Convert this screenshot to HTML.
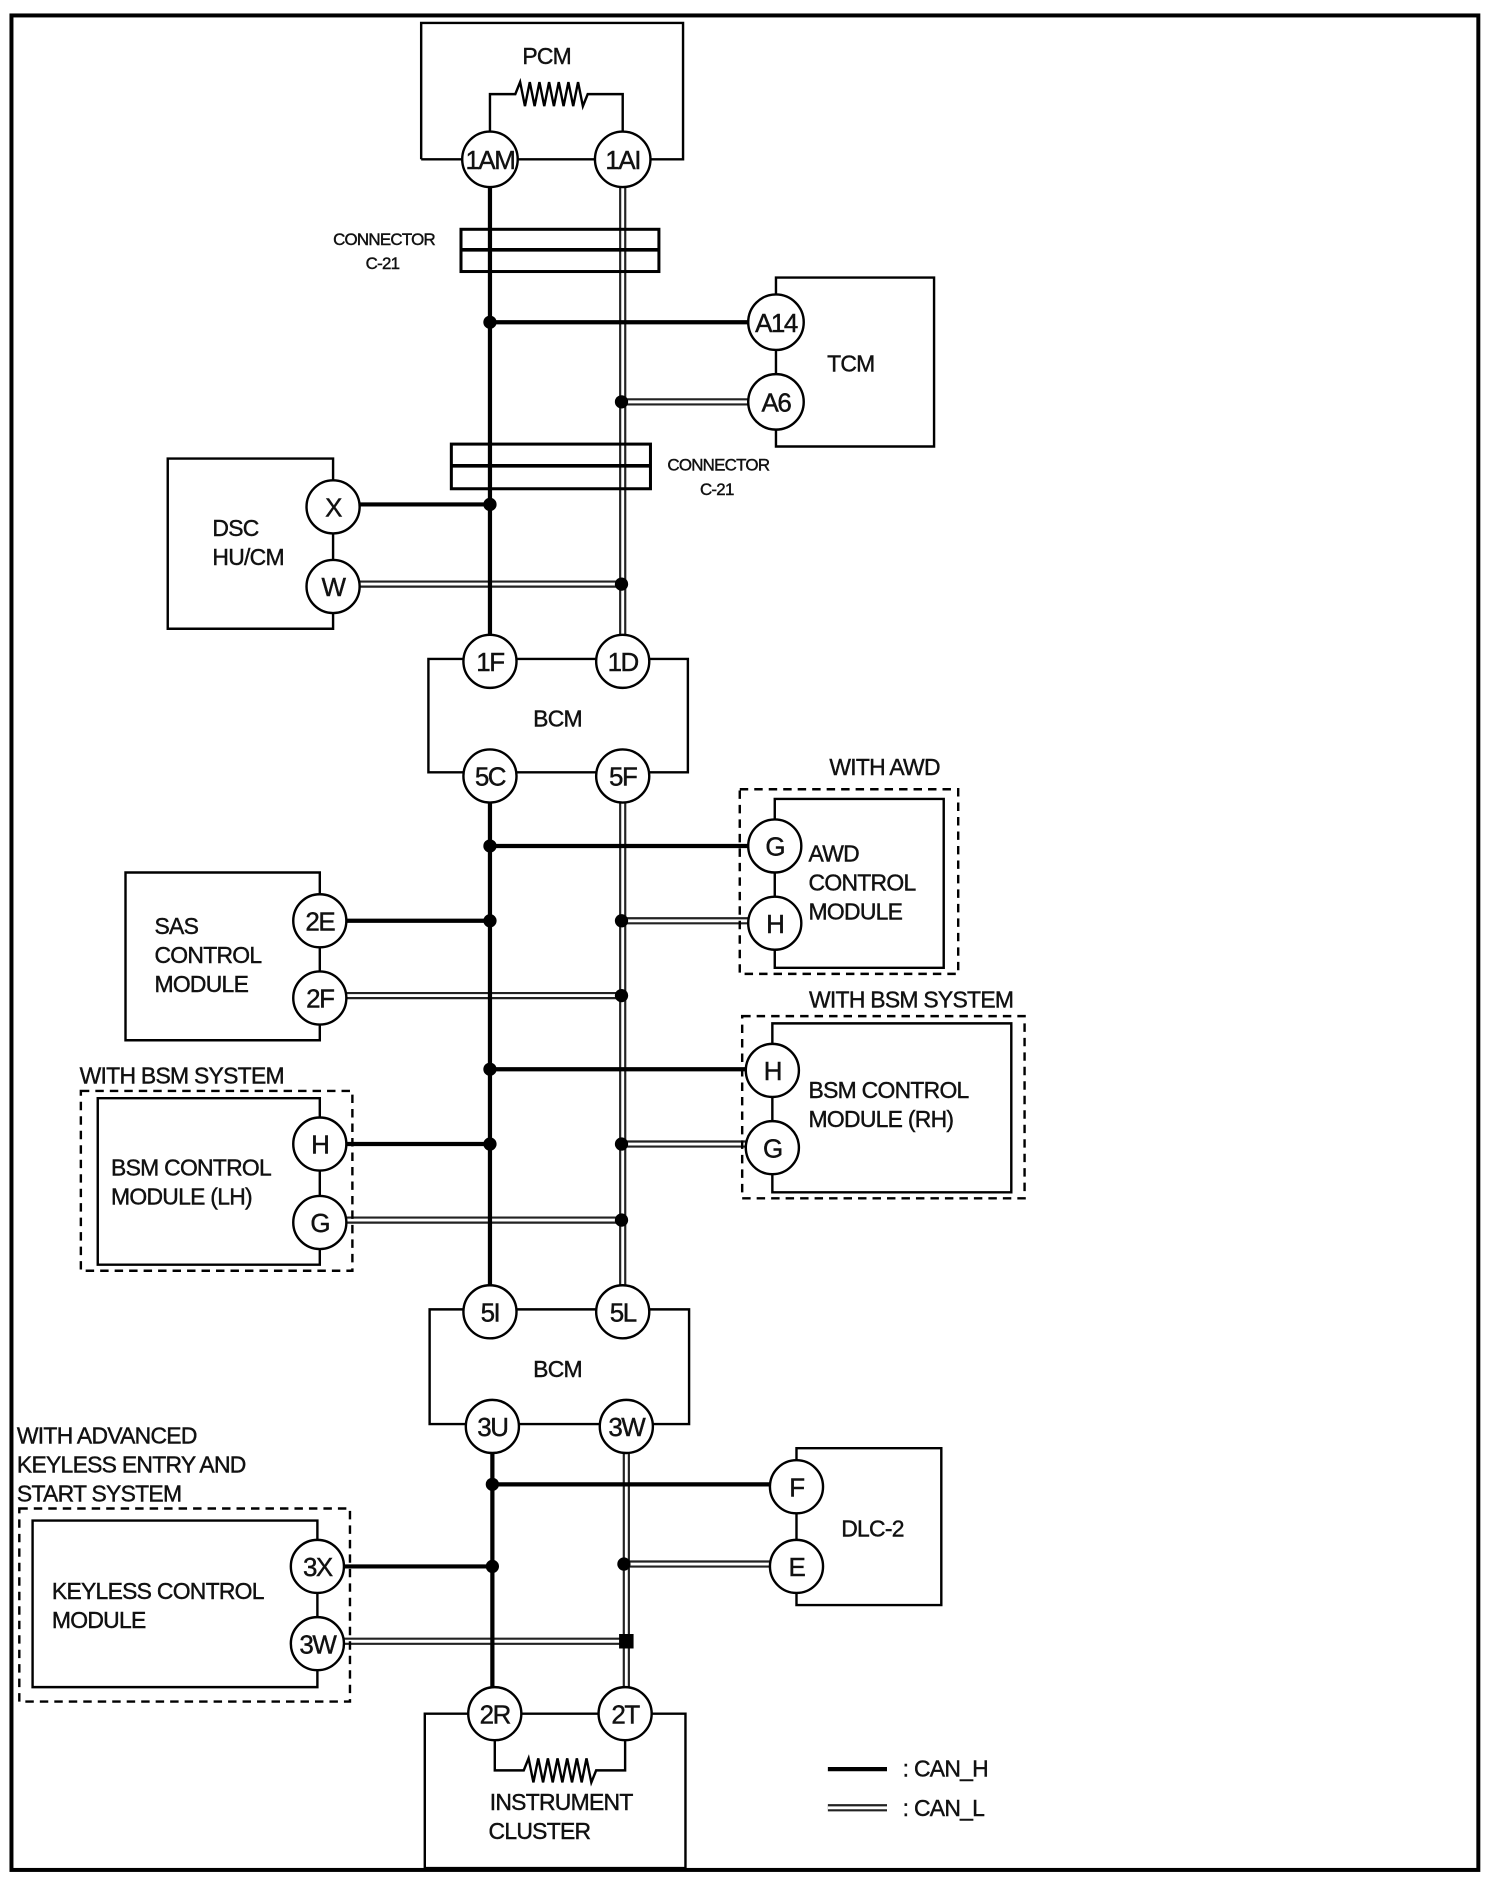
<!DOCTYPE html>
<html><head><meta charset="utf-8"><style>
html,body{margin:0;padding:0;background:#fff}
svg{display:block}
text{font-family:"Liberation Sans",Arial,sans-serif;font-size:19px;fill:#111;stroke:#111;stroke-width:0.35px;letter-spacing:-0.6px}
.c{text-anchor:middle}
.p text{font-size:21.5px;letter-spacing:-1.2px}
</style></head><body>
<svg width="1494" height="1886" viewBox="0 0 1494 1886" xmlns="http://www.w3.org/2000/svg">
<g transform="scale(1.2068)">
<rect x="9.5" y="12.8" width="1215.5" height="1536.7" fill="none" stroke="#000" stroke-width="3.3"/>

<g stroke-linecap="butt">
<g stroke="#222" stroke-width="6" fill="none">
<path d="M516 132V548M516 643V1085M519 1182V1420"/>
<path d="M515 333H643M515 484H276M515 763H642M515 825H265M515 948H640M515 1011H265M517 1296H660M519 1360H263"/>
</g>
<g stroke="#fff" stroke-width="2.4" fill="none">
<path d="M516 132V548M516 643V1085M519 1182V1420"/>
<path d="M518 333H643M518 484H276M518 763H642M518 825H265M518 948H640M518 1011H265M520 1296H660M522 1360H263"/>
</g>
</g>
<g stroke="#000" stroke-width="3.5" fill="none">
<path d="M406 132V548M406 643V1085M408 1182V1420"/>
<path d="M406 267H643M406 418H276M406 701H642M406 763H265M406 886H640M406 948H265M408 1230H660M408 1298H263"/>
</g>
<g fill="#000">
<circle cx="406" cy="267" r="5.5"/><circle cx="515" cy="333" r="5.5"/>
<circle cx="406" cy="418" r="5.5"/><circle cx="515" cy="484" r="5.5"/>
<circle cx="406" cy="701" r="5.5"/><circle cx="515" cy="763" r="5.5"/>
<circle cx="406" cy="763" r="5.5"/><circle cx="515" cy="825" r="5.5"/>
<circle cx="406" cy="886" r="5.5"/><circle cx="515" cy="948" r="5.5"/>
<circle cx="406" cy="948" r="5.5"/><circle cx="515" cy="1011" r="5.5"/>
<circle cx="408" cy="1230" r="5.5"/><circle cx="517" cy="1296" r="5.5"/>
<circle cx="408" cy="1298" r="5.5"/><rect x="513" y="1354" width="12" height="12"/>
</g>

<g fill="none" stroke="#000" stroke-width="2">
<path d="M349 132V19H566V132H349"/>
<path d="M406 132V78H427L431 68L435 88L439 68L443 88L447 68L451 88L455 68L459 88L463 68L467 88L471 68L475 88L479 68L483 88L487 78H516V132"/>
<rect x="382" y="190" width="164" height="35" stroke-width="2.5"/><line x1="382" y1="207" x2="546" y2="207" stroke-width="3"/>
<rect x="374" y="368" width="165" height="37" stroke-width="2.5"/><line x1="374" y1="386" x2="539" y2="386" stroke-width="3"/>
<path d="M643 267V230H774V370H643V267"/>
<path d="M276 420V380H139V521H276V420"/>
<path d="M406 546H355V640H570V546H406"/>
<rect x="613" y="654" width="181" height="153" stroke-dasharray="7 5"/>
<path d="M642 701V662H782V802H642V701"/>
<path d="M265 763V723H104V862H265V763"/>
<rect x="615" y="842" width="234" height="151" stroke-dasharray="7 5"/>
<path d="M640 887V848H838V988H640V887"/>
<rect x="67" y="904" width="225" height="149" stroke-dasharray="7 5"/>
<path d="M265 948V910H81V1048H265V948"/>
<path d="M406 1085H356V1180H571V1085H406"/>
<path d="M660 1232V1200H780V1330H660V1232"/>
<rect x="16" y="1250" width="274" height="160" stroke-dasharray="7 5"/>
<path d="M263 1298V1260H27V1398H263V1298"/>
<path d="M410 1420H352V1548H568V1420H410"/>
<path d="M410 1420V1467H434L438 1457L442 1477L446 1457L450 1477L454 1457L458 1477L462 1457L466 1477L470 1457L474 1477L478 1457L482 1477L486 1457L490 1477L494 1467H518V1420"/>
</g>
<line x1="686" y1="1466" x2="735" y2="1466" stroke="#000" stroke-width="3.5"/>
<line x1="686" y1="1498" x2="735" y2="1498" stroke="#222" stroke-width="6"/>
<line x1="686" y1="1498" x2="735" y2="1498" stroke="#fff" stroke-width="2.4"/>

<g fill="#fff" stroke="#000" stroke-width="2">
<circle cx="406" cy="132" r="23"/><circle cx="516" cy="132" r="23"/>
<circle cx="643" cy="267" r="23"/><circle cx="643" cy="333" r="23"/>
<circle cx="276" cy="420" r="22"/><circle cx="276" cy="486" r="22"/>
<circle cx="406" cy="548" r="22"/><circle cx="516" cy="548" r="22"/>
<circle cx="406" cy="643" r="22"/><circle cx="516" cy="643" r="22"/>
<circle cx="642" cy="701" r="22"/><circle cx="642" cy="765" r="22"/>
<circle cx="265" cy="763" r="22"/><circle cx="265" cy="827" r="22"/>
<circle cx="640" cy="887" r="22"/><circle cx="640" cy="951" r="22"/>
<circle cx="265" cy="948" r="22"/><circle cx="265" cy="1013" r="22"/>
<circle cx="406" cy="1087" r="22"/><circle cx="516" cy="1087" r="22"/>
<circle cx="408" cy="1182" r="22"/><circle cx="519" cy="1182" r="22"/>
<circle cx="660" cy="1232" r="22"/><circle cx="660" cy="1298" r="22"/>
<circle cx="263" cy="1298" r="22"/><circle cx="263" cy="1362" r="22"/>
<circle cx="410" cy="1420" r="22"/><circle cx="518" cy="1420" r="22"/>
</g>
<g class="p">
<text class="c" x="406" y="140">1AM</text><text class="c" x="516" y="140">1AI</text>
<text class="c" x="643" y="275">A14</text><text class="c" x="643" y="341">A6</text>
<text class="c" x="276" y="428">X</text><text class="c" x="276" y="494">W</text>
<text class="c" x="406" y="556">1F</text><text class="c" x="516" y="556">1D</text>
<text class="c" x="406" y="651">5C</text><text class="c" x="516" y="651">5F</text>
<text class="c" x="642" y="709">G</text><text class="c" x="642" y="773">H</text>
<text class="c" x="265" y="771">2E</text><text class="c" x="265" y="835">2F</text>
<text class="c" x="640" y="895">H</text><text class="c" x="640" y="959">G</text>
<text class="c" x="265" y="956">H</text><text class="c" x="265" y="1021">G</text>
<text class="c" x="406" y="1095">5I</text><text class="c" x="516" y="1095">5L</text>
<text class="c" x="408" y="1190">3U</text><text class="c" x="519" y="1190">3W</text>
<text class="c" x="660" y="1240">F</text><text class="c" x="660" y="1306">E</text>
<text class="c" x="263" y="1306">3X</text><text class="c" x="263" y="1370">3W</text>
<text class="c" x="410" y="1428">2R</text><text class="c" x="518" y="1428">2T</text>
</g>

<text class="c" x="453" y="53">PCM</text>
<text x="276" y="203" style="font-size:14px">CONNECTOR</text><text x="303" y="223" style="font-size:14px">C-21</text>
<text x="553" y="390" style="font-size:14px">CONNECTOR</text><text x="580" y="410" style="font-size:14px">C-21</text>
<text class="c" x="705" y="308">TCM</text>
<text x="176" y="444">DSC</text><text x="176" y="468">HU/CM</text>
<text class="c" x="462" y="602">BCM</text>
<text class="c" x="733" y="642">WITH AWD</text>
<text x="670" y="714">AWD</text><text x="670" y="738">CONTROL</text><text x="670" y="762">MODULE</text>
<text x="128" y="774">SAS</text><text x="128" y="798">CONTROL</text><text x="128" y="822">MODULE</text>
<text class="c" x="755" y="835">WITH BSM SYSTEM</text>
<text x="670" y="910">BSM CONTROL</text><text x="670" y="934">MODULE (RH)</text>
<text x="66" y="898">WITH BSM SYSTEM</text>
<text x="92" y="974">BSM CONTROL</text><text x="92" y="998">MODULE (LH)</text>
<text class="c" x="462" y="1141">BCM</text>
<text x="14" y="1196">WITH ADVANCED</text><text x="14" y="1220">KEYLESS ENTRY  AND</text><text x="14" y="1244">START SYSTEM</text>
<text x="43" y="1325">KEYLESS CONTROL</text><text x="43" y="1349">MODULE</text>
<text class="c" x="723" y="1273">DLC-2</text>
<text class="c" x="465" y="1500">INSTRUMENT</text><text class="c" x="447" y="1524">CLUSTER</text>
<text x="748" y="1472">:  CAN_H</text><text x="748" y="1505">:  CAN_L</text>
</g>
</svg>
</body></html>
